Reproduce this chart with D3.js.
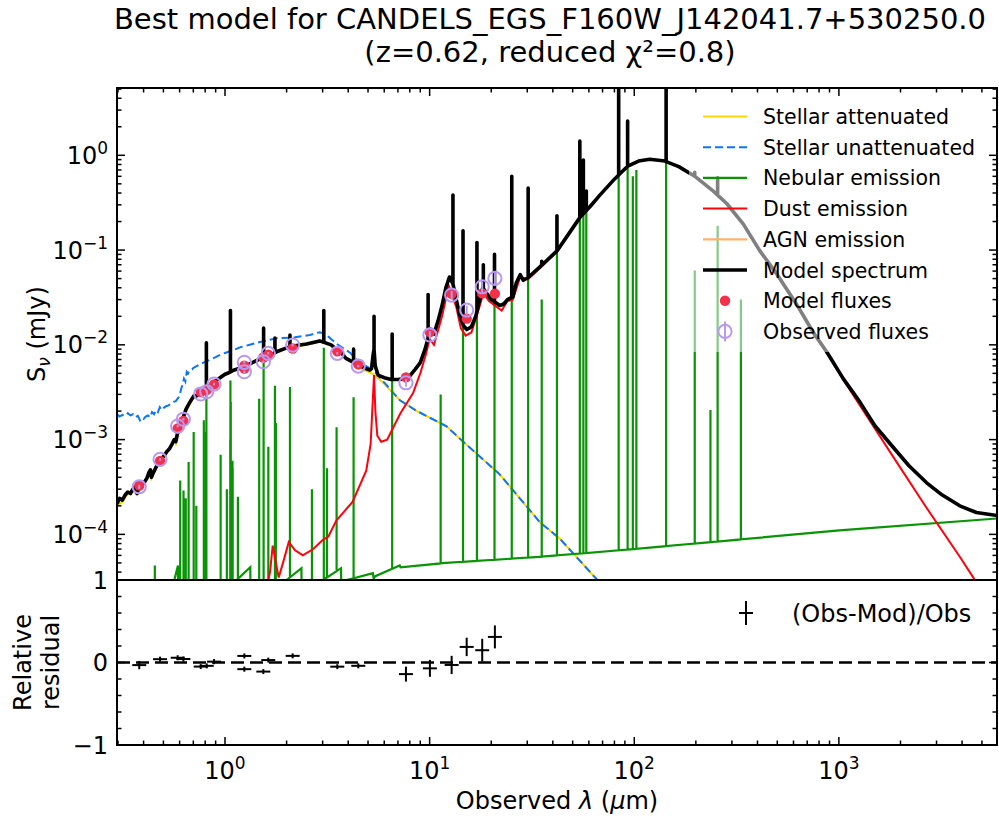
<!DOCTYPE html>
<html lang="en">
<head>
<meta charset="UTF-8">
<title>Best model for CANDELS_EGS_F160W_J142041.7+530250.0</title>
<script src="https://d3js.org/d3.v7.min.js"></script>
<style>
  body { margin: 0; background: #fff; }
  svg { font-family: "DejaVu Sans", sans-serif; }
</style>
</head>
<body>
<script>
// ---- data (observed wavelength in micron, flux density in mJy) ----
const stellarAttenuated = [
  [0.297,2.0e-4],[0.315,2.2e-4],[0.335,2.7e-4],[0.355,2.9e-4],[0.372,2.6e-4],[0.39,3.2e-4],
  [0.415,3.8e-4],[0.432,4.6e-4],[0.437,3.9e-4],[0.46,5.0e-4],[0.49,6.1e-4],[0.52,7.3e-4],
  [0.55,8.7e-4],[0.565,9.7e-4],[0.575,9.0e-4],[0.59,1.15e-3],[0.61,1.45e-3],[0.63,1.7e-3],
  [0.65,2.05e-3],[0.70,2.8e-3],[0.76,3.0e-3],[0.85,3.7e-3],[0.95,4.5e-3],[1.1,5.3e-3],
  [1.3,6.1e-3],[1.6,7.6e-3],[2.0,9.2e-3],[2.5,1.0e-2],[2.9,1.08e-2],[3.3,9.8e-3],
  [3.7,8.0e-3],[4.2,6.4e-3],[4.8,5.4e-3],[5.3,4.9e-3],[5.7,4.3e-3],[6.2,3.6e-3],
  [7.16,2.6e-3],[8.67,2.0e-3],[12.1,1.38e-3],[14.0,1.03e-3],[22,4.3e-4],[34.6,1.34e-4],
  [43.3,9.0e-5],[66,3.3e-5],[80,2.2e-5]
];
const stellarUnattenuated = [
  [0.297,1.85e-3],[0.305,1.75e-3],[0.315,1.82e-3],[0.325,1.78e-3],[0.335,1.9e-3],[0.345,1.8e-3],
  [0.355,1.85e-3],[0.365,1.72e-3],[0.375,1.78e-3],[0.384,1.6e-3],[0.392,1.7e-3],[0.40,1.65e-3],
  [0.41,1.75e-3],[0.42,1.8e-3],[0.43,1.72e-3],[0.44,1.95e-3],[0.45,1.85e-3],[0.46,2.05e-3],
  [0.47,1.95e-3],[0.48,2.2e-3],[0.49,2.05e-3],[0.50,2.15e-3],[0.515,2.25e-3],[0.53,2.3e-3],
  [0.545,2.4e-3],[0.56,2.5e-3],[0.575,2.55e-3],[0.59,2.75e-3],[0.60,2.9e-3],[0.61,3.4e-3],
  [0.62,3.8e-3],[0.63,4.4e-3],[0.64,4.1e-3],[0.65,5.2e-3],[0.66,5.0e-3],[0.67,5.4e-3],
  [0.69,5.5e-3],[0.70,5.7e-3],[0.73,6.0e-3],[0.76,6.3e-3],[0.80,6.6e-3],[0.85,7.0e-3],
  [0.90,7.4e-3],[0.95,7.9e-3],[1.0,8.2e-3],[1.1,8.8e-3],[1.2,9.5e-3],[1.32,1.0e-2],
  [1.5,1.08e-2],[1.79,1.17e-2],[2.2,1.2e-2],[2.6,1.27e-2],[2.9,1.36e-2],[3.1,1.3e-2],
  [3.5,1.03e-2],[4.1,8.2e-3],[4.5,6.6e-3],[5.3,5.4e-3],[6.2,3.7e-3],[7.16,2.6e-3],
  [8.67,2.0e-3],[12.1,1.38e-3],[14.0,1.03e-3],[22,4.3e-4],[34.6,1.34e-4],[43.3,9.0e-5],
  [66,3.3e-5],[80,2.2e-5]
];
const nebularContinuum = [
  [0.297,1.0e-5],[0.45,1.5e-5],[0.55,2.6e-5],[0.589,4.7e-5],[0.592,1.2e-5],[0.8,2.0e-5],
  [1.14,3.3e-5],[1.329,4.5e-5],[1.333,2.0e-5],[2.0,3.3e-5],[2.363,4.4e-5],[2.368,2.4e-5],
  [3.01,3.3e-5],[3.69,4.4e-5],[3.70,2.8e-5],[3.94,3.3e-5],[5.28,3.9e-5],[5.33,3.4e-5],
  [5.40,3.6e-5],[7.14,4.7e-5],[7.2,4.5e-5],[12,5.0e-5],[34.6,5.8e-5],[100,7.0e-5],
  [1005,1.1e-4],[5925,1.47e-4]
];
const nebularLines = [
  [0.454,4.7e-5],[0.604,3.7e-4],[0.627,2.9e-4],[0.643,2.4e-4],[0.664,5.8e-4],[0.703,1.2e-3],
  [0.724,2.0e-4],[0.788,1.6e-3],[0.803,1.2e-3],[0.811,3.3e-3],[0.952,6.9e-4],[1.021,3.0e-4],
  [1.061,1.0e-3],[1.063,4.2e-3],[1.067,2.5e-3],[1.088,6.0e-4],[1.090,5.0e-4],[1.156,2.5e-4],
  [1.469,2.7e-3],[1.544,6.6e-3],[1.628,8.4e-4],[1.754,3.7e-3],[1.772,1.5e-3],[2.077,3.6e-3],
  [2.66,3.0e-4],[3.04,9.3e-3],[3.15,5.0e-4],[3.51,1.35e-3],[4.25,2.8e-3],[6.56,4.2e-3],
  [11.32,3.0e-3],[14.56,2.0e-2],[17.03,2.0e-2],[20.75,5.0e-2],[25.2,0.6],[30.3,0.45],
  [35.3,3.0e-2],[41.9,0.23],[54.2,1.4],[56.4,0.89],[58.3,0.3],[83.9,8],[92.8,2.3],
  [98.4,0.6],[102.4,0.7],[143.1,8],[197.5,6.1e-2],[235.7,2.05e-3],[255.5,0.18],[332,3.0e-2]
];
const dustEmission = [
  [1.55,2.0e-5],[1.66,4.0e-5],[1.71,7.6e-5],[1.76,5.5e-5],[1.83,3.5e-5],[1.92,5.0e-5],
  [2.05,8.3e-5],[2.2,6.8e-5],[2.4,6.0e-5],[2.7,7.0e-5],[3.0,8.7e-5],[3.2,9.5e-5],
  [3.5,1.4e-4],[4.2,2.2e-4],[4.9,4.7e-4],[5.15,9e-4],[5.27,2.5e-3],[5.35,4.8e-3],
  [5.43,2.0e-3],[5.55,1.1e-3],[5.8,9.5e-4],[6.2,1.0e-3],[7.2,1.9e-3],[8.3,3.1e-3],
  [9.0,5.0e-3],[9.6,8.0e-3],[10.0,1.15e-2],[10.5,1.0e-2],[11.5,2.0e-2],[12.4,4.2e-2],
  [13.5,2.5e-2],[14.2,1.5e-2],[15.0,1.25e-2],[16,1.35e-2],[17.5,2.5e-2],[18.3,3.5e-2],
  [19.5,2.9e-2],[20.8,2.6e-2],[22.5,2.3e-2],[24,2.9e-2],[25.5,3.0e-2],[27.7,5.2e-2],
  [30.2,4.9e-2],[35,6.6e-2],[41.9,9.6e-2],[48,0.148],[54.2,0.218],[61,0.288],[67.9,0.378],
  [80,0.558],[93,0.768],[105,0.868],[119,0.908],[141,0.868],[165,0.758],[198,0.598],
  [240,0.428],[283,0.308],[340,0.188],[411,0.097],[500,0.054],[620,0.0265],[750,0.0132],
  [873,0.0082],[1050,0.0043],[1265,0.0023],[1833,6.7e-4],[2685,1.9e-4],[3898,5.8e-5],
  [4500,3.6e-5],[5925,1.4e-5]
];
const agnEmission = [];
const modelContinuum = [
  [0.297,2.1e-4],[0.305,2.4e-4],[0.315,2.3e-4],[0.325,2.6e-4],[0.335,2.8e-4],[0.345,2.7e-4],
  [0.355,3.0e-4],[0.365,3.2e-4],[0.372,2.7e-4],[0.378,3.1e-4],[0.39,3.3e-4],[0.405,3.6e-4],
  [0.415,3.9e-4],[0.425,4.5e-4],[0.432,4.8e-4],[0.437,4.0e-4],[0.445,4.4e-4],[0.46,5.1e-4],
  [0.475,5.7e-4],[0.49,6.3e-4],[0.505,6.8e-4],[0.52,7.5e-4],[0.535,8.0e-4],[0.55,8.9e-4],
  [0.565,1.0e-3],[0.575,9.5e-4],[0.585,1.15e-3],[0.60,1.35e-3],[0.615,1.55e-3],[0.63,1.8e-3],
  [0.645,2.1e-3],[0.66,2.3e-3],[0.675,2.5e-3],[0.69,2.7e-3],[0.705,2.9e-3],[0.72,2.85e-3],
  [0.74,3.05e-3],[0.76,3.1e-3],[0.78,3.3e-3],[0.80,3.4e-3],[0.83,3.6e-3],[0.86,3.85e-3],
  [0.89,4.1e-3],[0.92,4.3e-3],[0.96,4.6e-3],[1.0,4.9e-3],[1.05,5.1e-3],[1.1,5.4e-3],
  [1.15,5.55e-3],[1.2,5.8e-3],[1.3,6.2e-3],[1.4,6.7e-3],[1.5,7.2e-3],[1.6,7.7e-3],
  [1.7,8.0e-3],[1.8,8.5e-3],[2.0,9.3e-3],[2.2,9.8e-3],[2.5,1.02e-2],[2.7,1.06e-2],
  [2.9,1.1e-2],[3.1,1.05e-2],[3.3,1.0e-2],[3.5,9.0e-3],[3.7,8.3e-3],[3.9,7.2e-3],
  [4.2,6.6e-3],[4.5,6.1e-3],[4.8,5.7e-3],[5.1,5.4e-3],[5.2,5.6e-3],[5.3,8.0e-3],
  [5.35,9.0e-3],[5.42,6.0e-3],[5.6,4.8e-3],[6.0,4.5e-3],[6.5,4.3e-3],[7.0,4.3e-3],
  [7.5,4.4e-3],[8.0,4.7e-3],[8.5,5.5e-3],[9.0,6.5e-3],[9.5,9.0e-3],[10.0,1.35e-2],
  [10.5,1.3e-2],[11.0,1.8e-2],[11.5,2.6e-2],[12.0,4.0e-2],[12.5,5.2e-2],[13.0,4.4e-2],
  [13.5,3.0e-2],[14.0,2.1e-2],[14.6,1.6e-2],[15.2,1.45e-2],[16.0,1.55e-2],[16.8,2.0e-2],
  [17.5,2.9e-2],[18.2,4.0e-2],[19.0,3.5e-2],[20.0,3.0e-2],[21.0,2.8e-2],[22.0,2.6e-2],
  [23.0,2.7e-2],[24.0,3.0e-2],[25.5,3.2e-2],[26.5,4.5e-2],[27.7,5.5e-2],[28.7,4.8e-2],
  [30.2,5.1e-2],[35,6.8e-2],[41.9,9.8e-2],[48,0.15],[54.2,0.22],[61,0.29],[67.9,0.38],
  [80,0.56],[93,0.77],[105,0.87],[119,0.91],[141,0.87],[165,0.76],[198,0.60],[240,0.43],
  [283,0.31],[340,0.19],[411,0.098],[500,0.055],[620,0.027],[750,0.0135],[873,0.0084],
  [1050,0.0044],[1265,0.0025],[1500,0.0014],[1833,8.4e-4],[2200,5.3e-4],[2685,3.5e-4],
  [3200,2.6e-4],[3898,2.0e-4],[4700,1.7e-4],[5925,1.58e-4]
];
const modelLines = [
  [0.811,1.05e-2],[1.063,2.3e-2],[1.544,1.5e-2],[1.754,1.18e-2],[2.077,1.27e-2],
  [3.04,2.3e-2],[4.25,9.0e-3],[5.35,2.0e-2],[6.56,1.3e-2],[9.83,3.4e-2],[13.0,0.38],
  [14.56,0.16],[17.03,0.12],[18.3,0.07],[20.75,0.09],[25.2,0.6],[30.3,0.45],[35.3,0.076],
  [41.9,0.23],[54.2,1.41],[56.4,0.89],[58.3,0.42],[83.9,8],[92.8,2.3],[143.1,8],
  [197.5,0.66],[255.5,0.58],[332,0.2]
];
const filterWave = [0.381,0.4815,0.587,0.626,0.761,0.814,0.884,1.243,1.243,1.539,
  1.627,2.141,3.537,4.48,7.66,10.03,12.81,15.17,18.07,20.84];
const obsFlux = [3.18e-4,6.19e-4,1.39e-3,1.64e-3,3.03e-3,3.20e-3,3.86e-3,6.54e-3,5.20e-3,
  6.63e-3,8.13e-3,9.95e-3,8.13e-3,5.97e-3,3.98e-3,1.27e-2,3.35e-2,2.33e-2,4.10e-2,5.03e-2];
const obsErr = [1.6e-5,1.9e-5,4.2e-5,4.9e-5,9.1e-5,9.6e-5,1.2e-4,2.0e-4,1.6e-4,2.0e-4,
  2.4e-4,3.0e-4,2.4e-4,1.8e-4,3.6e-4,1.3e-3,3.7e-3,2.6e-3,5.7e-3,7.0e-3];
const modelFlux = [3.28e-4,5.94e-4,1.31e-3,1.57e-3,3.18e-3,3.33e-3,3.82e-3,6.02e-3,5.62e-3,
  7.36e-3,7.89e-3,9.15e-3,8.54e-3,6.21e-3,4.54e-3,1.36e-2,3.45e-2,1.89e-2,3.49e-2,3.47e-2];
const legendLabels = ["Stellar attenuated","Stellar unattenuated","Nebular emission",
  "Dust emission","AGN emission","Model spectrum","Model fluxes","Observed fluxes"];

// ---- layout ----
const W = 999, H = 820;
const L = 117, R = 997, T = 88, M = 580, B = 745;
const cGold = "#ffd700", cBlue = "#0d75f8", cGreen = "#089404", cRed = "#ff000d",
      cApricot = "#ffb16d", cObs = "#b899f2", cMod = "#f5304a";

const svg = d3.select("body").append("svg").attr("width", W).attr("height", H);

const x = d3.scaleLog().domain([0.2966, 5925]).range([L, R]);
const y = d3.scaleLog().domain([3.30e-5, 5.13]).range([M, T]);
const yr = d3.scaleLinear().domain([-1, 1]).range([B, M]);

svg.append("clipPath").attr("id", "clipTop").append("rect")
  .attr("x", L).attr("y", T).attr("width", R - L).attr("height", M - T);
const topG = svg.append("g").attr("clip-path", "url(#clipTop)");

const line = d3.line().x(d => x(d[0])).y(d => y(d[1]));

// add emission lines (vertical spikes) on top of a continuum
function withSpikes(cont, lines) {
  const lx = cont.map(d => Math.log10(d[0])), ly = cont.map(d => Math.log10(d[1]));
  function base(l) {
    const t = Math.log10(l);
    let i = d3.bisectLeft(lx, t);
    if (i <= 0) return cont[0][1];
    if (i >= lx.length) return cont[cont.length - 1][1];
    const f = (t - lx[i - 1]) / (lx[i] - lx[i - 1]);
    return Math.pow(10, ly[i - 1] + f * (ly[i] - ly[i - 1]));
  }
  const pts = cont.map(d => [d[0], d[1], 0]);
  lines.forEach(l => {
    const b = base(l[0]);
    pts.push([l[0], b, 1], [l[0], Math.max(b, l[1]), 2], [l[0], b, 3]);
  });
  pts.sort((a, b) => a[0] - b[0] || a[2] - b[2]);
  return pts;
}

topG.append("path").attr("d", line(stellarAttenuated))
  .attr("fill", "none").attr("stroke", cGold).attr("stroke-width", 2);
topG.append("path").attr("d", line(stellarUnattenuated))
  .attr("fill", "none").attr("stroke", cBlue).attr("stroke-width", 2)
  .attr("stroke-dasharray", "8,4");
topG.append("path").attr("d", line(withSpikes(nebularContinuum, nebularLines)))
  .attr("fill", "none").attr("stroke", cGreen).attr("stroke-width", 2.2);
topG.append("path").attr("d", line(dustEmission))
  .attr("fill", "none").attr("stroke", cRed).attr("stroke-width", 2);
if (agnEmission.length) topG.append("path").attr("d", line(agnEmission))
  .attr("fill", "none").attr("stroke", cApricot).attr("stroke-width", 2);
topG.append("path").attr("d", line(withSpikes(modelContinuum, modelLines)))
  .attr("fill", "none").attr("stroke", "#000").attr("stroke-width", 3.6)
  .attr("stroke-linejoin", "round");

// model fluxes
topG.selectAll("circle.mod").data(filterWave).join("circle").attr("class", "mod")
  .attr("cx", d => x(d)).attr("cy", (d, i) => y(modelFlux[i])).attr("r", 5.2)
  .attr("fill", cMod);
// observed fluxes with error bars
topG.selectAll("line.err").data(filterWave).join("line").attr("class", "err")
  .attr("x1", d => x(d)).attr("x2", d => x(d))
  .attr("y1", (d, i) => y(obsFlux[i] - obsErr[i])).attr("y2", (d, i) => y(obsFlux[i] + obsErr[i]))
  .attr("stroke", cObs).attr("stroke-width", 2);
topG.selectAll("circle.obs").data(filterWave).join("circle").attr("class", "obs")
  .attr("cx", d => x(d)).attr("cy", (d, i) => y(obsFlux[i])).attr("r", 6.6)
  .attr("fill", "none").attr("stroke", cObs).attr("stroke-width", 2);

// translucent legend background
svg.append("rect").attr("x", 689).attr("y", 98).attr("width", 302).attr("height", 254)
  .attr("rx", 4).attr("fill", "#fff").attr("fill-opacity", 0.5);

// ---- residual panel ----
const bot = svg.append("g");
bot.append("line").attr("x1", L).attr("x2", R).attr("y1", yr(0)).attr("y2", yr(0))
  .attr("stroke", "#000").attr("stroke-width", 2.6).attr("stroke-dasharray", "13,6");
const resid = filterWave.map((d, i) => [(obsFlux[i] - modelFlux[i]) / obsFlux[i], obsErr[i] / obsFlux[i]]);
bot.selectAll("line.rh").data(filterWave).join("line").attr("class", "rh")
  .attr("x1", d => x(d) - 7).attr("x2", d => x(d) + 7)
  .attr("y1", (d, i) => yr(resid[i][0])).attr("y2", (d, i) => yr(resid[i][0]))
  .attr("stroke", "#000").attr("stroke-width", 2);
bot.selectAll("line.rv").data(filterWave).join("line").attr("class", "rv")
  .attr("x1", d => x(d)).attr("x2", d => x(d))
  .attr("y1", (d, i) => yr(resid[i][0] - resid[i][1])).attr("y2", (d, i) => yr(resid[i][0] + resid[i][1]))
  .attr("stroke", "#000").attr("stroke-width", 2);

// ---- axes, ticks ----
const frame = svg.append("g").attr("fill", "none").attr("stroke", "#000");
frame.append("rect").attr("x", L).attr("y", T).attr("width", R - L).attr("height", B - T).attr("stroke-width", 2);
frame.append("line").attr("x1", L).attr("x2", R).attr("y1", M).attr("y2", M).attr("stroke-width", 2);

const isMajor = v => Math.abs(Math.log10(v) - Math.round(Math.log10(v))) < 1e-6;
const ticks = svg.append("g").attr("stroke", "#000").attr("stroke-width", 1.5);
x.ticks().forEach(v => {
  const len = isMajor(v) ? 8 : 4.5, px = x(v);
  ticks.append("line").attr("x1", px).attr("x2", px).attr("y1", T).attr("y2", T + len);
  ticks.append("line").attr("x1", px).attr("x2", px).attr("y1", B).attr("y2", B - len);
});
y.ticks().forEach(v => {
  const len = isMajor(v) ? 8 : 4.5, py = y(v);
  ticks.append("line").attr("x1", L).attr("x2", L + len).attr("y1", py).attr("y2", py);
  ticks.append("line").attr("x1", R).attr("x2", R - len).attr("y1", py).attr("y2", py);
});
d3.range(-0.8, 0.81, 0.2).forEach(v => {
  const len = Math.abs(v) < 1e-6 ? 8 : 4.5, py = yr(v);
  ticks.append("line").attr("x1", L).attr("x2", L + len).attr("y1", py).attr("y2", py);
  ticks.append("line").attr("x1", R).attr("x2", R - len).attr("y1", py).attr("y2", py);
});

const labels = svg.append("g").attr("fill", "#000").attr("font-size", 24);
function powLabel(g, v, px, py, anchor) {
  const e = Math.round(Math.log10(v));
  const t = g.append("text").attr("x", px).attr("y", py).attr("text-anchor", anchor).text("10");
  t.append("tspan").attr("dy", -10).attr("font-size", 17).text(String(e).replace("-", "\u2212"));
}
x.ticks().filter(isMajor).forEach(v => powLabel(labels, v, x(v), 779, "middle"));
y.ticks().filter(isMajor).forEach(v => powLabel(labels, v, 108, y(v) + 8.5, "end"));
[[1, "1"], [0, "0"], [-1, "\u22121"]].forEach(d => {
  labels.append("text").attr("x", 108).attr("y", yr(d[0]) + 8.5).attr("text-anchor", "end").text(d[1]);
});

// axis titles
const yl = labels.append("text").attr("transform", "translate(45," + ((T + M) / 2) + ") rotate(-90)")
  .attr("text-anchor", "middle");
yl.append("tspan").text("S");
yl.append("tspan").attr("dy", 5).attr("font-size", 17).attr("font-style", "italic").text("\u03bd");
yl.append("tspan").attr("dy", -5).text(" (mJy)");
labels.append("text").attr("transform", "translate(31," + ((M + B) / 2) + ") rotate(-90)")
  .attr("text-anchor", "middle").text("Relative");
labels.append("text").attr("transform", "translate(59," + ((M + B) / 2) + ") rotate(-90)")
  .attr("text-anchor", "middle").text("residual");
const xl = labels.append("text").attr("x", (L + R) / 2).attr("y", 809).attr("text-anchor", "middle");
xl.append("tspan").text("Observed ");
xl.append("tspan").attr("font-style", "italic").text("\u03bb");
xl.append("tspan").text(" (");
xl.append("tspan").attr("font-style", "italic").text("\u03bc");
xl.append("tspan").text("m)");

// title
svg.append("text").attr("x", 550).attr("y", 29).attr("text-anchor", "middle").attr("font-size", 29)
  .text("Best model for CANDELS_EGS_F160W_J142041.7+530250.0");
svg.append("text").attr("x", 550).attr("y", 62).attr("text-anchor", "middle").attr("font-size", 29)
  .text("(z=0.62, reduced \u03c7\u00b2=0.8)");

// ---- legend ----
const lg = svg.append("g").attr("font-size", 20.5);
const rowY = i => 116.5 + i * 30.7;
const legendStyles = [
  {c: cGold, w: 2}, {c: cBlue, w: 2, dash: "8,4"}, {c: cGreen, w: 2.2}, {c: cRed, w: 2},
  {c: cApricot, w: 2.2}, {c: "#000", w: 3.6}
];
legendStyles.forEach((s, i) => {
  lg.append("line").attr("x1", 703).attr("x2", 747).attr("y1", rowY(i)).attr("y2", rowY(i))
    .attr("stroke", s.c).attr("stroke-width", s.w).attr("stroke-dasharray", s.dash || null);
});
lg.append("circle").attr("cx", 725).attr("cy", rowY(6)).attr("r", 5.2).attr("fill", cMod);
lg.append("line").attr("x1", 725).attr("x2", 725).attr("y1", rowY(7) - 10).attr("y2", rowY(7) + 10)
  .attr("stroke", cObs).attr("stroke-width", 2);
lg.append("circle").attr("cx", 725).attr("cy", rowY(7)).attr("r", 6.6)
  .attr("fill", "none").attr("stroke", cObs).attr("stroke-width", 2);
legendLabels.forEach((t, i) => {
  lg.append("text").attr("x", 763).attr("y", rowY(i) + 7.5).text(t);
});

// residual legend
const rl = svg.append("g");
rl.append("line").attr("x1", 739).attr("x2", 753).attr("y1", 613).attr("y2", 613).attr("stroke", "#000").attr("stroke-width", 2);
rl.append("line").attr("x1", 746).attr("x2", 746).attr("y1", 601).attr("y2", 625).attr("stroke", "#000").attr("stroke-width", 2);
rl.append("text").attr("x", 792).attr("y", 622).attr("font-size", 24).text("(Obs-Mod)/Obs");
</script>
</body>
</html>
